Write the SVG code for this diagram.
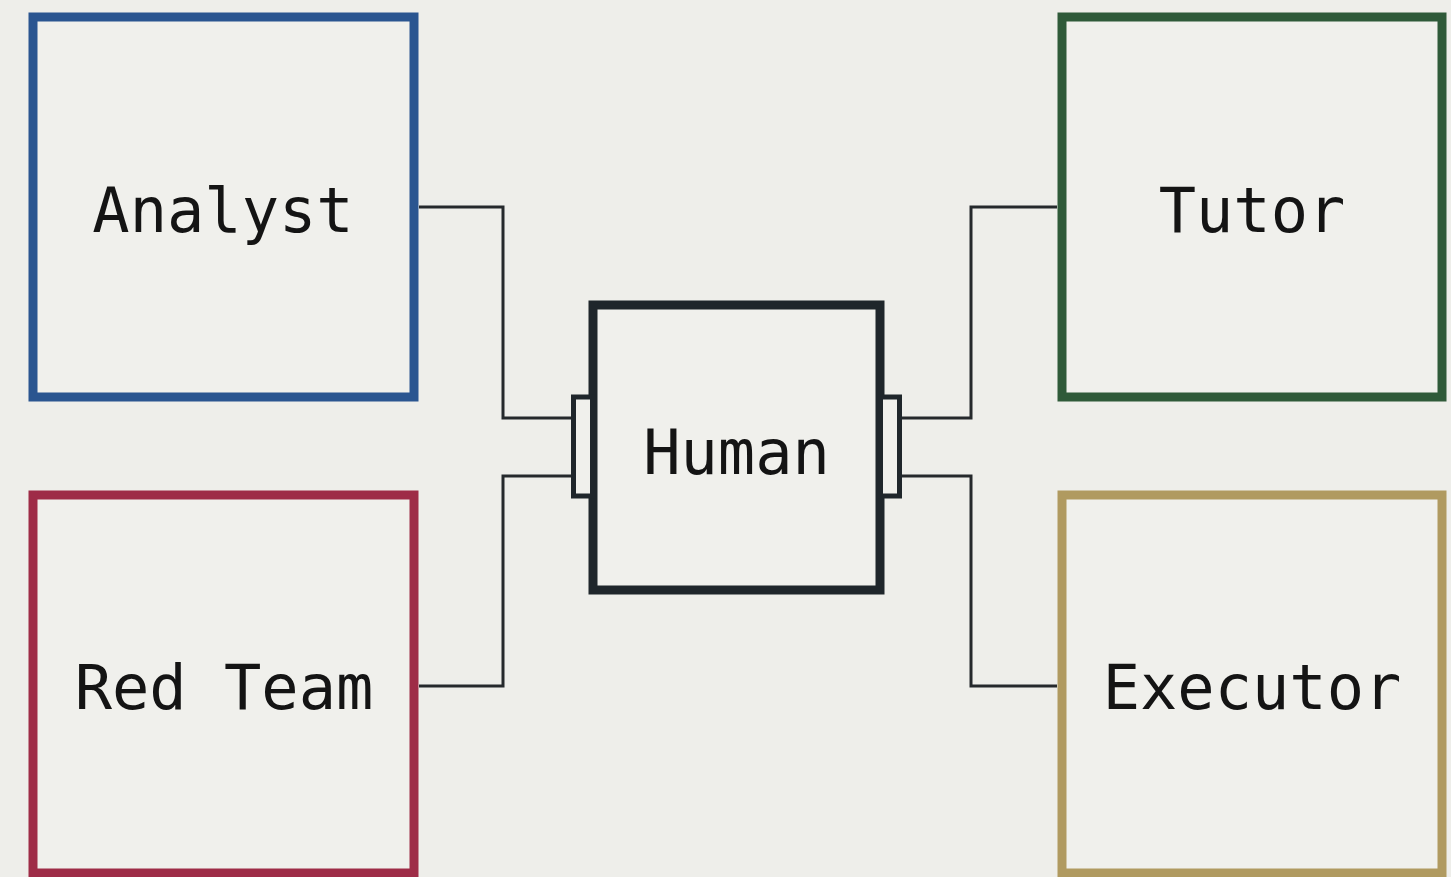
<svg xmlns="http://www.w3.org/2000/svg" width="1451" height="877" viewBox="0 0 1451 877">
  <style>
    .box { fill: #f0f0ec; stroke-width: 9; }
    .lbl { font-family: "DejaVu Sans Mono", "Liberation Mono", monospace; font-size: 62px; fill: #141414; text-anchor: middle; }
    .wire { fill: none; stroke: #25292c; stroke-width: 3; }
    .port { fill: #f0f0ec; stroke: #1f262b; stroke-width: 5; }
  </style>
  <rect x="0" y="0" width="1451" height="877" fill="#eeeeea"/>
  <g id="connectors">
    <path class="wire" d="M419 207 H503 V418 H573"/>
    <path class="wire" d="M419 686 H503 V476 H573"/>
    <path class="wire" d="M1057 207 H971 V418 H901"/>
    <path class="wire" d="M1057 686 H971 V476 H901"/>
  </g>
  <g id="analyst">
    <rect class="box" x="33" y="17" width="381" height="380" stroke="#2a5590"/>
    <text class="lbl" x="223" y="232">Analyst</text>
  </g>
  <g id="redteam">
    <rect class="box" x="33" y="495" width="381" height="378" stroke="#9e2c47"/>
    <text class="lbl" x="224" y="709">Red Team</text>
  </g>
  <g id="tutor">
    <rect class="box" x="1062" y="17" width="380" height="380" stroke="#2f5a39"/>
    <text class="lbl" x="1252" y="232">Tutor</text>
  </g>
  <g id="executor">
    <rect class="box" x="1062" y="495" width="380" height="378" stroke="#b09a60"/>
    <text class="lbl" x="1252" y="709">Executor</text>
  </g>
  <g id="human">
    <rect class="box" x="593" y="305" width="287" height="285" stroke="#1f262b"/>
    <rect class="port" x="573.5" y="397" width="19" height="99"/>
    <rect class="port" x="880.5" y="397" width="19" height="99"/>
    <text class="lbl" x="736.5" y="474">Human</text>
  </g>
</svg>
